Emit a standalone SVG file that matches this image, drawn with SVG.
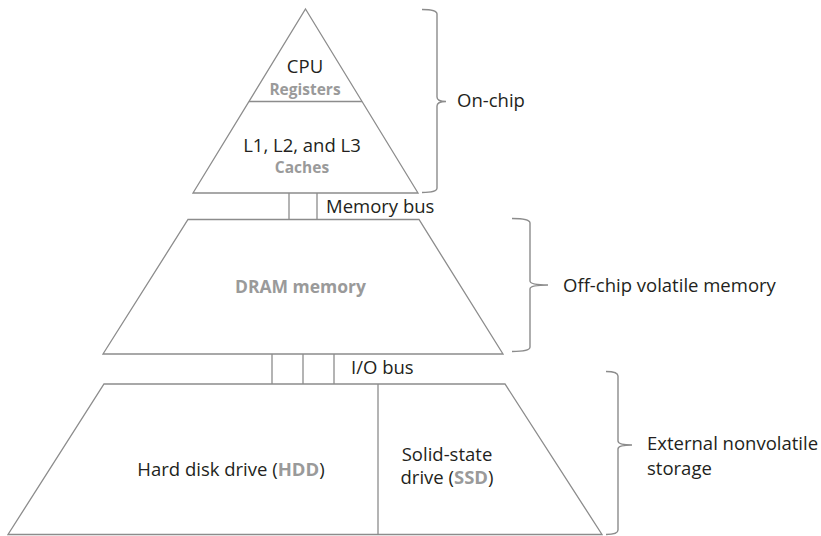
<svg xmlns="http://www.w3.org/2000/svg" width="821" height="536" viewBox="0 0 821 536">
  <style>
    .shape { fill: #ffffff; stroke: #8c8c8c; stroke-width: 1.3; stroke-linejoin: miter; }
    .line { fill: none; stroke: #8c8c8c; stroke-width: 1.3; }
    .brace { fill: none; stroke: #8c8c8c; stroke-width: 1.4; }
    text { font-family: "Open Sans", "Liberation Sans", sans-serif; font-size: 18.5px; fill: #231f20; }
    .c { text-anchor: middle; }
    .hl { font-weight: bold; fill: #9a9a9a; }
    .hls { font-weight: bold; fill: #9a9a9a; font-size: 15.5px; }
  </style>

  <!-- on-chip pyramid tip -->
  <g id="cpu-caches">
    <polygon class="shape" points="305.5,9 418,193 193,193"/>
    <line class="line" x1="249" y1="101.5" x2="362" y2="101.5"/>
    <text class="c" x="305" y="72.5">CPU</text>
    <text class="c hls" x="305" y="94.5">Registers</text>
    <text class="c" x="302" y="152">L1, L2, and L3</text>
    <text class="c hls" x="302" y="173">Caches</text>
  </g>

  <!-- main memory -->
  <g id="dram">
    <polygon class="shape" points="188,219.5 419,219.5 503,354 103,354"/>
    <text class="c hl" x="300.5" y="293" style="font-size:17.5px">DRAM memory</text>
  </g>

  <!-- storage devices -->
  <g id="storage">
    <polygon class="shape" points="104,384 505,384 602,534.5 8,534.5"/>
    <line class="line" x1="378" y1="384" x2="378" y2="534.5"/>
    <text class="c" x="231" y="476">Hard disk drive (<tspan class="hl">HDD</tspan>)</text>
    <text class="c" x="447" y="461">Solid-state</text>
    <text class="c" x="447" y="484">drive (<tspan class="hl">SSD</tspan>)</text>
  </g>

  <!-- buses between the levels -->
  <g id="connectors">
    <line class="line" x1="289" y1="193" x2="289" y2="219.5"/>
    <line class="line" x1="317" y1="193" x2="317" y2="219.5"/>
    <text x="326" y="213">Memory bus</text>
    <line class="line" x1="272" y1="354" x2="272" y2="384"/>
    <line class="line" x1="303" y1="354" x2="303" y2="384"/>
    <line class="line" x1="334" y1="354" x2="334" y2="384"/>
    <text x="351" y="374">I/O bus</text>
  </g>

  <!-- level braces and labels -->
  <g id="brace-onchip">
    <path class="brace" d="M422,9.5 Q437,9.5 437,14 L437,97 Q437,101.5 446,101.5 Q437,101.5 437,106 L437,188 Q437,192.5 422,192.5"/>
    <text x="457" y="107">On-chip</text>
  </g>
  <g id="brace-offchip">
    <path class="brace" d="M512,218.5 Q530,218.5 530,223 L530,281 Q530,285 548,285 Q530,285 530,289 L530,347 Q530,351.5 512,351.5"/>
    <text x="563" y="292">Off-chip volatile memory</text>
  </g>
  <g id="brace-external">
    <path class="brace" d="M606,371.5 Q618,371.5 618,376 L618,441 Q618,445 632,445 Q618,445 618,449 L618,530 Q618,534.5 606,534.5"/>
    <text x="647" y="450">External nonvolatile</text>
    <text x="647" y="475">storage</text>
  </g>
</svg>
